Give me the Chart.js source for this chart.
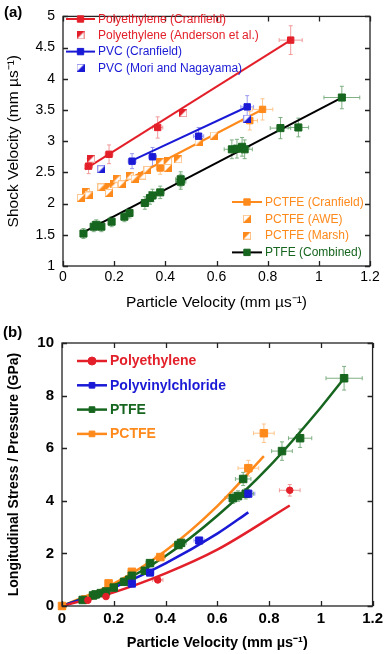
<!DOCTYPE html>
<html>
<head>
<meta charset="utf-8">
<script src="https://cdn.jsdelivr.net/npm/chart.js@4.4.1/dist/chart.umd.min.js"></script>
<style>
  body { margin: 0; background: #fff; }
  #wrap { position: relative; width: 387px; height: 654px; }
  canvas { position: absolute; left: 0; }
</style>
</head>
<body>
<div id="wrap">
  <canvas id="chartA" width="387" height="320" style="top:0"></canvas>
  <canvas id="chartB" width="387" height="334" style="top:320px"></canvas>
</div>
<script>
// ---- panel (a): shock velocity vs particle velocity ----
const xTicks = [0, 0.2, 0.4, 0.6, 0.8, 1, 1.2];
const yTicksA = [1, 1.5, 2, 2.5, 3, 3.5, 4, 4.5, 5];
const yTicksB = [0, 2, 4, 6, 8, 10];

const peCranX = [0.10, 0.18, 0.37, 0.89];
const peCranY = [2.60, 2.79, 3.22, 4.62];
const peCranErrX = [0.015, 0.015, 0.02, 0.045];
const peCranErrY = [0.12, 0.15, 0.17, 0.23];
const peAndX = [0.11, 0.47];
const peAndY = [2.72, 3.45];

const pvcCranX = [0.27, 0.35, 0.53, 0.72];
const pvcCranY = [2.68, 2.75, 3.08, 3.55];
const pvcCranErrX = [0.015, 0.015, 0.02, 0.025];
const pvcCranErrY = [0.12, 0.15, 0.14, 0.18];
const pvcMoriX = [0.15, 0.72];
const pvcMoriY = [2.55, 3.36];

const pctfeCranX = [0.38, 0.73, 0.78];
const pctfeCranY = [2.57, 3.33, 3.51];
const pctfeCranErrX = [0.015, 0.03, 0.04];
const pctfeCranErrY = [0.1, 0.15, 0.17];
const pctfeAweX = [0.07, 0.10, 0.15, 0.18, 0.23, 0.28, 0.33, 0.41, 0.53, 0.59];
const pctfeAweY = [2.09, 2.13, 2.26, 2.17, 2.31, 2.40, 2.54, 2.57, 2.98, 3.09];
const pctfeMarshX = [0.09, 0.18, 0.20, 0.21, 0.26, 0.31, 0.38, 0.41, 0.45];
const pctfeMarshY = [2.19, 2.26, 2.31, 2.40, 2.45, 2.45, 2.67, 2.68, 2.71];

const ptfeX = [0.08, 0.12, 0.13, 0.15, 0.19, 0.24, 0.26, 0.32, 0.34, 0.35, 0.38, 0.46, 0.46, 0.66, 0.68, 0.70, 0.71, 0.85, 0.92, 1.09];
const ptfeY = [1.52, 1.63, 1.66, 1.63, 1.71, 1.79, 1.85, 2.01, 2.09, 2.13, 2.18, 2.35, 2.39, 2.87, 2.88, 2.91, 2.87, 3.21, 3.22, 3.70];
const ptfeErrX = [0.01, 0.01, 0.01, 0.01, 0.01, 0.01, 0.01, 0.015, 0.015, 0.015, 0.015, 0.02, 0.02, 0.03, 0.03, 0.03, 0.03, 0.04, 0.04, 0.07];
const ptfeErrY = [0.08, 0.08, 0.08, 0.08, 0.08, 0.08, 0.08, 0.1, 0.1, 0.1, 0.1, 0.12, 0.12, 0.15, 0.15, 0.15, 0.15, 0.17, 0.15, 0.18];

// fitted lines (end points)
const peFitX = [0.085, 0.89], peFitY = [2.55, 4.62];
const pvcFitX = [0.265, 0.725], pvcFitY = [2.68, 3.56];
const pctfeFitX = [0.20, 0.785], pctfeFitY = [2.27, 3.52];
const ptfeFitX = [0.075, 1.09], ptfeFitY = [1.53, 3.70];

// ---- panel (b): stress vs particle velocity ----
const peBX = [0.10, 0.17, 0.37, 0.88];
const peBY = [0.22, 0.36, 0.99, 4.40];
const peBErrX = [0.01, 0.01, 0.02, 0.04];
const peBErrY = [0.05, 0.06, 0.08, 0.22];
const pvcBX = [0.27, 0.34, 0.53, 0.72];
const pvcBY = [0.85, 1.27, 2.49, 4.27];
const pvcBErrX = [0.01, 0.015, 0.02, 0.025];
const pvcBErrY = [0.06, 0.08, 0.12, 0.15];
const ptfeBX = [0.08, 0.12, 0.13, 0.15, 0.17, 0.20, 0.24, 0.26, 0.27, 0.32, 0.34, 0.45, 0.46, 0.66, 0.68, 0.70, 0.71, 0.85, 0.92, 1.09];
const ptfeBY = [0.23, 0.40, 0.44, 0.49, 0.55, 0.70, 0.92, 1.00, 1.15, 1.34, 1.63, 2.32, 2.40, 4.10, 4.18, 4.83, 4.27, 5.89, 6.38, 8.66];
const ptfeBErrX = [0.01, 0.01, 0.01, 0.01, 0.01, 0.01, 0.01, 0.01, 0.01, 0.015, 0.015, 0.02, 0.02, 0.03, 0.03, 0.03, 0.03, 0.04, 0.045, 0.07];
const ptfeBErrY = [0.05, 0.05, 0.05, 0.05, 0.05, 0.06, 0.06, 0.07, 0.07, 0.08, 0.08, 0.12, 0.12, 0.2, 0.2, 0.25, 0.2, 0.35, 0.35, 0.45];
const pctfeBX = [0.00, 0.09, 0.18, 0.27, 0.38, 0.72, 0.78];
const pctfeBY = [0.00, 0.25, 0.86, 1.30, 1.86, 5.24, 6.57];
const pctfeBErrX = [0, 0.01, 0.01, 0.015, 0.02, 0.04, 0.04];
const pctfeBErrY = [0, 0.05, 0.07, 0.08, 0.1, 0.3, 0.35];

// fitted curves, points
const peCurveX = [0, 0.2, 0.4, 0.6, 0.88], peCurveY = [0, 0.52, 1.24, 2.14, 3.82];
const pvcCurveX = [0, 0.2, 0.4, 0.6, 0.72], pvcCurveY = [0, 0.70, 1.62, 2.75, 3.56];
const ptfeCurveX = [0, 0.2, 0.4, 0.6, 0.8, 1.0, 1.09], ptfeCurveY = [0, 0.77, 1.9, 3.43, 5.3, 7.55, 8.66];
const pctfeCurveX = [0, 0.2, 0.4, 0.6, 0.78], pctfeCurveY = [0, 0.85, 2.1, 3.8, 5.7];

const RED = '#e3202a', RED_L = '#f09a9a';
const BLUE = '#1a1ad6', BLUE_L = '#9a9af0';
const ORANGE = '#ff8a1c', ORANGE_L = '#ffc48a';
const GREEN = '#17661f', GREEN_L = '#7fb083';

Chart.defaults.font.family = '"Liberation Sans", Arial, sans-serif';
Chart.defaults.color = '#000';

const pts = (xs, ys) => xs.map((x, i) => ({ x: x, y: ys[i] }));

function halfSquare(fill, edge, corner) {
  const c = document.createElement('canvas');
  c.width = 8; c.height = 8;
  const g = c.getContext('2d');
  g.fillStyle = '#fff';
  g.fillRect(0, 0, 8, 8);
  g.strokeStyle = edge;
  g.lineWidth = 1;
  g.strokeRect(0.5, 0.5, 7, 7);
  g.fillStyle = fill;
  g.beginPath();
  if (corner === 'tl') { g.moveTo(0, 0); g.lineTo(8, 0); g.lineTo(0, 8); }
  else { g.moveTo(8, 0); g.lineTo(8, 8); g.lineTo(0, 8); }
  g.closePath();
  g.fill();
  return c;
}

const errorBars = {
  id: 'errorBars',
  beforeDatasetsDraw(chart) {
    const { ctx, scales: { x, y } } = chart;
    chart.data.datasets.forEach(ds => {
      if (!ds.errX && !ds.errY) return;
      ctx.save();
      ctx.strokeStyle = ds.errColor;
      ctx.lineWidth = 1;
      ds.data.forEach((p, i) => {
        const px = x.getPixelForValue(p.x), py = y.getPixelForValue(p.y);
        const ex = ds.errX ? ds.errX[i] : 0, ey = ds.errY ? ds.errY[i] : 0;
        ctx.beginPath();
        if (ey) {
          const y1 = y.getPixelForValue(p.y - ey), y2 = y.getPixelForValue(p.y + ey);
          ctx.moveTo(px, y1); ctx.lineTo(px, y2);
          ctx.moveTo(px - 2, y1); ctx.lineTo(px + 2, y1);
          ctx.moveTo(px - 2, y2); ctx.lineTo(px + 2, y2);
        }
        if (ex) {
          const x1 = x.getPixelForValue(p.x - ex), x2 = x.getPixelForValue(p.x + ex);
          ctx.moveTo(x1, py); ctx.lineTo(x2, py);
          ctx.moveTo(x1, py - 2); ctx.lineTo(x1, py + 2);
          ctx.moveTo(x2, py - 2); ctx.lineTo(x2, py + 2);
        }
        ctx.stroke();
      });
      ctx.restore();
    });
  }
};

const boxTicks = {
  id: 'boxTicks',
  afterDraw(chart, args, opts) {
    const { ctx, chartArea: a, scales: { x, y } } = chart;
    const len = 5;
    ctx.save();
    ctx.strokeStyle = '#222';
    ctx.lineWidth = 1.3;
    ctx.strokeRect(a.left, a.top, a.right - a.left, a.bottom - a.top);
    ctx.beginPath();
    x.ticks.forEach(t => {
      const px = Math.round(x.getPixelForValue(t.value)) + 0.5;
      ctx.moveTo(px, a.bottom); ctx.lineTo(px, a.bottom - len);
      ctx.moveTo(px, a.top); ctx.lineTo(px, a.top + len);
    });
    y.ticks.forEach(t => {
      const py = Math.round(y.getPixelForValue(t.value)) + 0.5;
      ctx.moveTo(a.left, py); ctx.lineTo(a.left + len, py);
      ctx.moveTo(a.right, py); ctx.lineTo(a.right - len, py);
    });
    ctx.stroke();
    ctx.fillStyle = '#000';
    ctx.font = 'bold 15px "Liberation Sans", Arial, sans-serif';
    ctx.textBaseline = 'middle';
    ctx.fillText(opts.tag, opts.tagX, opts.tagY);
    ctx.restore();
  }
};

const boxLegend = {
  id: 'boxLegend',
  afterDraw(chart, args, opts) {
    const ctx = chart.ctx;
    opts.groups.forEach(g => {
      g.rows.forEach((r, i) => {
        const ds = chart.data.datasets[r];
        const y = g.y + i * g.step;
        ctx.save();
        if (ds.legendLine) {
          ctx.strokeStyle = ds.legendLine;
          ctx.lineWidth = g.lineWidth;
          ctx.beginPath();
          ctx.moveTo(g.x, y); ctx.lineTo(g.x + g.len, y);
          ctx.stroke();
        }
        ctx.fillStyle = ds.pointBackgroundColor || ds.backgroundColor;
        ctx.strokeStyle = ds.pointBorderColor || ds.borderColor;
        ctx.lineWidth = 1;
        Chart.helpers.drawPoint(ctx, {
          pointStyle: ds.pointStyle, radius: g.radius, rotation: 0, borderWidth: 1
        }, g.x + g.len / 2, y);
        ctx.fillStyle = ds.legendText;
        ctx.font = g.font;
        ctx.textBaseline = 'middle';
        ctx.fillText(ds.label, g.x + g.len + g.gap, y + 0.5);
        ctx.restore();
      });
    });
  }
};

function markers(label, xs, ys, style, color, opts) {
  return Object.assign({
    label: label,
    data: pts(xs, ys),
    showLine: false,
    pointStyle: style,
    pointRadius: 4.5,
    pointBackgroundColor: color,
    pointBorderColor: color,
    pointBorderWidth: 1,
    clip: false
  }, opts || {});
}

function fitLine(xs, ys, color, width, tension) {
  return {
    data: pts(xs, ys),
    showLine: true,
    borderColor: color,
    borderWidth: width,
    pointRadius: 0,
    tension: tension || 0,
    cubicInterpolationMode: tension ? 'monotone' : 'default',
    fill: false
  };
}

function axis(ticks, min, max, opts) {
  return {
    type: 'linear', min: min, max: max,
    afterBuildTicks: s => { s.ticks = ticks.map(v => ({ value: v })); },
    grid: { display: false, drawTicks: false },
    border: { display: false },
    ticks: {
      color: '#000', autoSkip: false, maxRotation: 0,
      callback: v => String(v),
      font: opts.tickFont, padding: opts.tickPad
    },
    title: { display: true, text: opts.title, color: '#000', font: opts.titleFont, padding: opts.titlePad },
    afterFit: opts.fit
  };
}

// ---------- chart (a) ----------
const dsA = [
  markers('Polyethylene (Cranfield)', peCranX, peCranY, 'rect', RED,
    { errX: peCranErrX, errY: peCranErrY, errColor: RED_L, legendLine: RED, legendText: RED }),
  markers('Polyethylene (Anderson et al.)', peAndX, peAndY, halfSquare(RED, RED_L, 'tl'), RED,
    { legendText: RED }),
  markers('PVC (Cranfield)', pvcCranX, pvcCranY, 'rect', BLUE,
    { errX: pvcCranErrX, errY: pvcCranErrY, errColor: BLUE_L, legendLine: BLUE, legendText: BLUE }),
  markers('PVC (Mori and Nagayama)', pvcMoriX, pvcMoriY, halfSquare(BLUE, BLUE_L, 'br'), BLUE,
    { legendText: BLUE }),
  markers('PCTFE (Cranfield)', pctfeCranX, pctfeCranY, 'rect', ORANGE,
    { errX: pctfeCranErrX, errY: pctfeCranErrY, errColor: ORANGE_L, legendLine: ORANGE, legendText: ORANGE }),
  markers('PCTFE (AWE)', pctfeAweX, pctfeAweY, halfSquare(ORANGE, ORANGE_L, 'br'), ORANGE,
    { legendText: ORANGE }),
  markers('PCTFE (Marsh)', pctfeMarshX, pctfeMarshY, halfSquare(ORANGE, ORANGE_L, 'tl'), ORANGE,
    { legendText: ORANGE }),
  markers('PTFE (Combined)', ptfeX, ptfeY, 'rect', GREEN,
    { errX: ptfeErrX, errY: ptfeErrY, errColor: GREEN_L, legendLine: '#000', legendText: GREEN, pointRadius: 5 }),
  fitLine(peFitX, peFitY, RED, 2),
  fitLine(pvcFitX, pvcFitY, BLUE, 2),
  fitLine(pctfeFitX, pctfeFitY, ORANGE, 2),
  fitLine(ptfeFitX, ptfeFitY, '#000', 2)
];

new Chart(document.getElementById('chartA'), {
  type: 'scatter',
  data: { datasets: dsA },
  options: {
    responsive: false,
    animation: false,
    layout: { padding: { top: 9, right: 17, left: 0, bottom: 0 } },
    plugins: {
      legend: { display: false },
      tooltip: { enabled: false },
      boxTicks: { tag: '(a)', tagX: 4, tagY: 13 },
      boxLegend: {
        groups: [
          { x: 66, y: 19, step: 16.3, len: 29, gap: 3, lineWidth: 2, radius: 4.5,
            font: '12px "Liberation Sans", Arial, sans-serif', rows: [0, 1, 2, 3] },
          { x: 232, y: 202, step: 16.8, len: 30, gap: 3, lineWidth: 2, radius: 4.5,
            font: '12px "Liberation Sans", Arial, sans-serif', rows: [4, 5, 6, 7] }
        ]
      }
    },
    scales: {
      x: axis(xTicks, 0, 1.2, {
        tickFont: { size: 14 }, tickPad: 3,
        title: 'Particle Velocity (mm µs⁻¹)', titleFont: { size: 15.5 }, titlePad: { top: 0, bottom: 8 },
        fit: s => { s.height = 54; }
      }),
      y: axis(yTicksA, 1, 5, {
        tickFont: { size: 14 }, tickPad: 8,
        title: 'Shock Velocity (mm µs⁻¹)', titleFont: { size: 15.5 }, titlePad: { top: 4, bottom: 0 },
        fit: s => { s.width = 63; }
      })
    }
  },
  plugins: [errorBars, boxTicks, boxLegend]
});

// ---------- chart (b) ----------
const dsB = [
  markers('Polyethylene', peBX, peBY, 'circle', RED,
    { errX: peBErrX, errY: peBErrY, errColor: RED_L, legendLine: RED, legendText: RED, pointRadius: 3.3 }),
  markers('Polyvinylchloride', pvcBX, pvcBY, 'rect', BLUE,
    { errX: pvcBErrX, errY: pvcBErrY, errColor: BLUE_L, legendLine: BLUE, legendText: BLUE, pointRadius: 5 }),
  markers('PTFE', ptfeBX, ptfeBY, 'rect', GREEN,
    { errX: ptfeBErrX, errY: ptfeBErrY, errColor: GREEN_L, legendLine: GREEN, legendText: GREEN, pointRadius: 5.3 }),
  markers('PCTFE', pctfeBX, pctfeBY, 'rect', ORANGE,
    { errX: pctfeBErrX, errY: pctfeBErrY, errColor: ORANGE_L, legendLine: ORANGE, legendText: ORANGE, pointRadius: 5.3 }),
  fitLine(peCurveX, peCurveY, RED, 2.5, 0.4),
  fitLine(pvcCurveX, pvcCurveY, BLUE, 2.5, 0.4),
  fitLine(ptfeCurveX, ptfeCurveY, GREEN, 2.5, 0.4),
  fitLine(pctfeCurveX, pctfeCurveY, ORANGE, 2.5, 0.4)
];

new Chart(document.getElementById('chartB'), {
  type: 'scatter',
  data: { datasets: dsB },
  options: {
    responsive: false,
    animation: false,
    layout: { padding: { top: 23, right: 11, left: 0, bottom: 0 } },
    plugins: {
      legend: { display: false },
      tooltip: { enabled: false },
      boxTicks: { tag: '(b)', tagX: 3, tagY: 13 },
      boxLegend: {
        groups: [
          { x: 77, y: 41, step: 24.3, len: 30, gap: 3, lineWidth: 2.5, radius: 4,
            font: 'bold 14px "Liberation Sans", Arial, sans-serif', rows: [0, 1, 2, 3] }
        ]
      }
    },
    scales: {
      x: axis(xTicks, 0, 1.2, {
        tickFont: { size: 15, weight: 'bold' }, tickPad: 4,
        title: 'Particle Velocity (mm µs⁻¹)', titleFont: { size: 14.5, weight: 'bold' }, titlePad: { top: 0, bottom: 2 },
        fit: s => { s.height = 48; }
      }),
      y: axis(yTicksB, 0, 10, {
        tickFont: { size: 15, weight: 'bold' }, tickPad: 8,
        title: 'Longitudinal Stress / Pressure (GPa)', titleFont: { size: 14, weight: 'bold' }, titlePad: { top: 6, bottom: 0 },
        fit: s => { s.width = 62; }
      })
    }
  },
  plugins: [errorBars, boxTicks, boxLegend]
});
</script>
</body>
</html>
